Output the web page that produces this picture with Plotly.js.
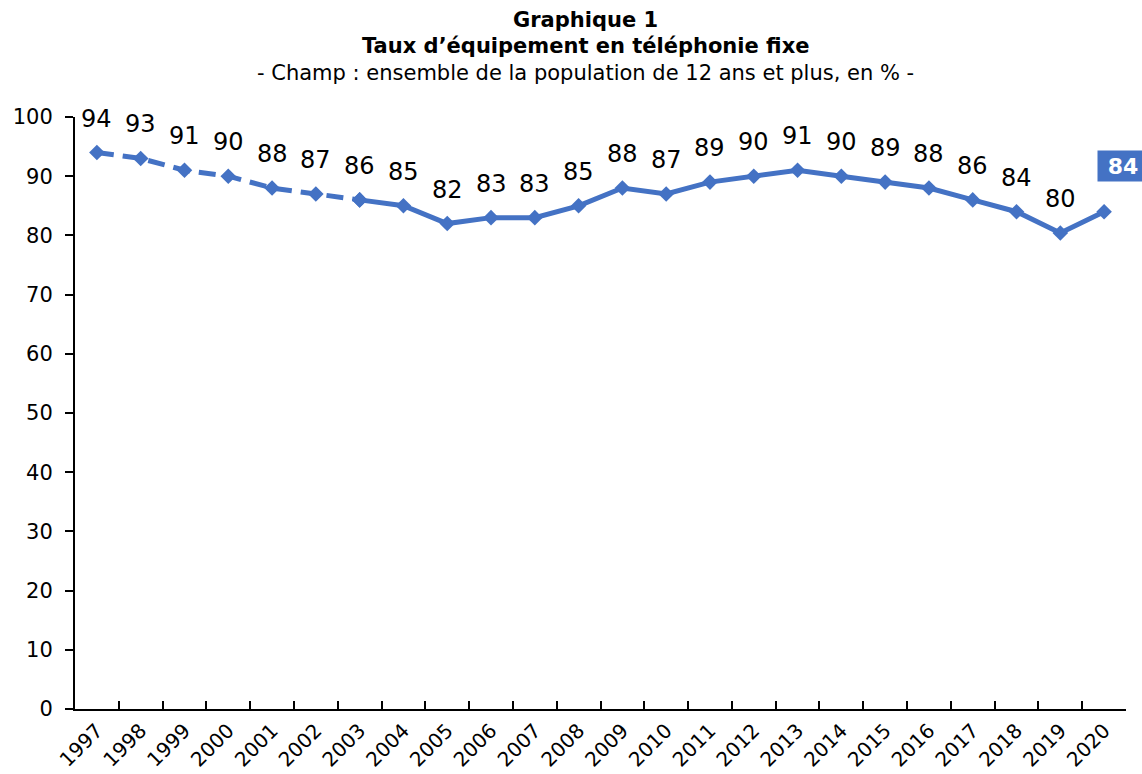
<!DOCTYPE html>
<html>
<head>
<meta charset="utf-8">
<script src="https://cdn.plot.ly/plotly-3.0.1.min.js"></script>
<style>html,body{margin:0;padding:0;background:#fff;}#chart{width:1142px;height:774px;}</style>
</head>
<body>
<div id="chart"></div>
<script>
const years = ["1997","1998","1999","2000","2001","2002","2003","2004","2005","2006","2007","2008","2009","2010","2011","2012","2013","2014","2015","2016","2017","2018","2019","2020"];
const values = [94, 93, 91, 90, 88, 87, 86, 85, 82, 83, 83, 85, 88, 87, 89, 90, 91, 90, 89, 88, 86, 84, 80.4, 84];
const labels = ["94","93","91","90","88","87","86","85","82","83","83","85","88","87","89","90","91","90","89","88","86","84","80","84"];
const dashedEnd = 6; // 2003: dashed until here, solid after

const blue = "#4472C4";
const FONT = "DejaVu Sans, Verdana, sans-serif";

const traces = [
  {
    x: years.slice(0, dashedEnd + 1), y: values.slice(0, dashedEnd + 1),
    type: "scatter", mode: "lines+markers",
    line: {color: blue, width: 5, dash: "17px,9px"},
    marker: {symbol: "diamond", size: 12, color: blue},
    hoverinfo: "skip", showlegend: false, cliponaxis: false
  },
  {
    x: years.slice(dashedEnd), y: values.slice(dashedEnd),
    type: "scatter", mode: "lines+markers",
    line: {color: blue, width: 5},
    marker: {symbol: "diamond", size: 12, color: blue},
    hoverinfo: "skip", showlegend: false, cliponaxis: false
  }
];

const annotations = [];
const last = years.length - 1;
years.forEach((yr, i) => {
  if (i === last) {
    annotations.push({
      x: i, y: values[i], xref: "x", yref: "y",
      text: "<b>" + labels[i] + "</b>", showarrow: false,
      font: {family: FONT, size: 22, color: "#ffffff"},
      bgcolor: blue, borderpad: 1, width: 48, height: 28,
      xanchor: "center", yanchor: "middle",
      xshift: 19, yshift: 46
    });
  } else {
    annotations.push({
      x: i, y: values[i], xref: "x", yref: "y",
      text: labels[i], showarrow: false,
      font: {family: FONT, size: 24, color: "#000000"},
      xanchor: "center", yanchor: "middle", yshift: 34
    });
  }
});

const titleX = (585 - 75) / 1051;
annotations.push(
  {xref: "paper", yref: "paper", x: titleX, y: (709 - 20) / 592, text: "<b>Graphique 1</b>", showarrow: false,
   font: {family: FONT, size: 21, color: "#000"}, xanchor: "center", yanchor: "middle"},
  {xref: "paper", yref: "paper", x: titleX, y: (709 - 46) / 592, text: "<b>Taux d’équipement en téléphonie fixe</b>", showarrow: false,
   font: {family: FONT, size: 21, color: "#000"}, xanchor: "center", yanchor: "middle"},
  {xref: "paper", yref: "paper", x: titleX, y: (709 - 73) / 592, text: "- Champ : ensemble de la population de 12 ans et plus, en % -", showarrow: false,
   font: {family: FONT, size: 21, color: "#000"}, xanchor: "center", yanchor: "middle"}
);

const layout = {
  width: 1142, height: 774,
  margin: {l: 75, r: 16, t: 117, b: 65},
  paper_bgcolor: "#ffffff", plot_bgcolor: "#ffffff",
  font: {family: FONT, color: "#000"},
  showlegend: false,
  xaxis: {
    type: "category", categoryorder: "array", categoryarray: years,
    range: [-0.5, years.length - 0.5],
    showline: true, linecolor: "#000", linewidth: 2,
    ticks: "inside", tickson: "boundaries", ticklen: 8, tickwidth: 2, tickcolor: "#000",
    tickangle: -45, tickfont: {family: FONT, size: 20, color: "#000"},
    showgrid: false, zeroline: false, fixedrange: true
  },
  yaxis: {
    range: [0, 100], tickvals: [0,10,20,30,40,50,60,70,80,90,100],
    showline: true, linecolor: "#000", linewidth: 2,
    ticks: "outside", ticklen: 8, tickwidth: 2, tickcolor: "#000",
    ticklabelstandoff: 8,
    tickfont: {family: FONT, size: 21, color: "#000"},
    showgrid: false, zeroline: false, fixedrange: true
  },
  annotations: annotations
};

Plotly.newPlot("chart", traces, layout, {displayModeBar: false, staticPlot: true});
</script>
</body>
</html>
